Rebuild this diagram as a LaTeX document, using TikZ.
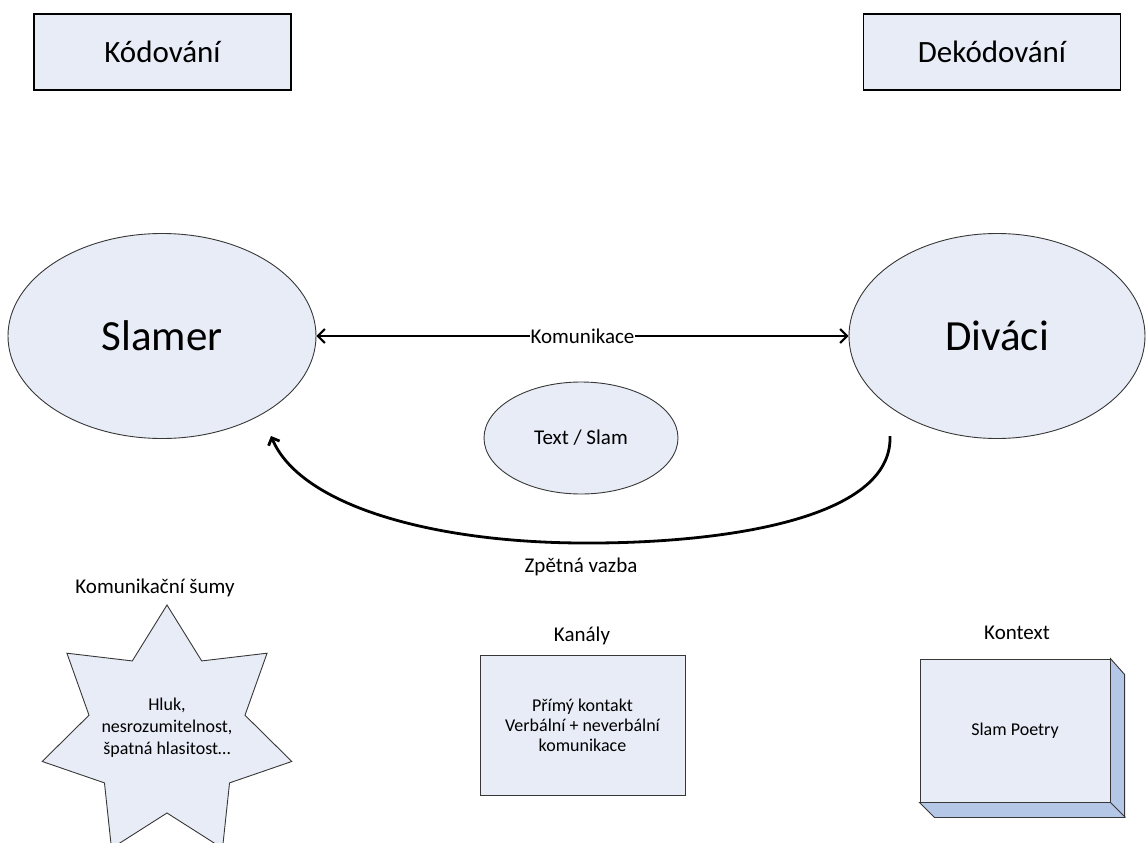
\documentclass[tikz,border=0pt]{standalone}
\usepackage{fontspec}
\setmainfont{Carlito}
\usetikzlibrary{shapes.geometric,arrows.meta}
\definecolor{boxfill}{RGB}{232,236,247}
\definecolor{sidefill}{RGB}{180,199,231}
\definecolor{edgec}{RGB}{55,55,55}
\tikzset{
 topbox/.style={draw=black, line width=1.3pt, fill=boxfill, minimum width=257pt, minimum height=76pt, inner sep=0pt, font=\fontsize{31}{36}\selectfont},
 bigell/.style={ellipse, draw=edgec, line width=0.9pt, fill=boxfill, inner sep=0pt, font=\fontsize{43}{50}\selectfont},
 lbl/.style={font=\fontsize{21}{25}\selectfont, inner sep=1pt},
 smalltxt/.style={font=\fontsize{18}{22}\selectfont, align=center},
 shapeline/.style={draw=edgec, line width=0.9pt, fill=boxfill},
 conn/.style={line width=2pt, {Straight Barb[length=7pt,width=14pt]}-{Straight Barb[length=7pt,width=14pt]}},
 fbarrow/.style={line width=2.8pt, -{Straight Barb[length=6pt,width=12pt]}},
}
\begin{document}
\begin{tikzpicture}[x=1pt,y=-1pt]
\useasboundingbox (0,0) rectangle (1146,843);
% top boxes
\node[topbox] (kod) at (162.5,52) {Kódování};
\node[topbox] (dek) at (992,52) {Dekódování};
% main ellipses
\node[bigell, minimum width=308pt, minimum height=205pt] (slamer) at (162,336) {Slamer};
\node[bigell, minimum width=296pt, minimum height=205pt] (divaci) at (997,336) {Diváci};
\node[ellipse, shapeline, minimum width=194pt, minimum height=112pt, inner sep=0pt, font=\fontsize{21}{25}\selectfont] (textslam) at (581,438) {Text / Slam};
% communication
\draw[conn] (slamer) -- node[lbl, fill=white, pos=0.5] (komlbl) {Komunikace} (divaci);
% feedback
\coordinate (fbstart) at (890,436);
\coordinate (fbend) at (271,436);
\draw[fbarrow] (fbstart) .. controls (893,520) and (720,544) .. (580,543) .. controls (430,542) and (300,505) .. (fbend);
\node[lbl] (zv) at (581,567) {Zpětná vazba};
% noise star
\node[lbl] (sumlbl) at (155,588) {Komunikační šumy};
\draw[shapeline, shift={(167,733)}] (90:128pt)
  \foreach \k [evaluate=\k as \r using {ifthenelse(mod(\k,2)==0,128,80)}] in {1,...,13} { -- ({90+\k*360/14}:\r pt) } -- cycle;
\node[smalltxt] (sum) at (167,728) {Hluk,\\nesrozumitelnost,\\špatná hlasitost…};
% channels
\node[lbl] (kanlbl) at (582,636) {Kanály};
\node[shapeline, minimum width=205pt, minimum height=140pt, font=\fontsize{18}{20}\selectfont, align=center] (kan) at (582.5,725) {Přímý kontakt\\Verbální + neverbální\\komunikace};
% context
\node[lbl] (ktxlbl) at (1017,633) {Kontext};
\node[shapeline, minimum width=190pt, minimum height=143pt, smalltxt] (ktx) at (1015,730.5) {Slam Poetry};
\draw[draw=edgec, line width=0.9pt, fill=sidefill] (ktx.south west) -- ++(15,15) -- ++(190,0) -- ++(0,-143) -- (ktx.north east) -- (ktx.south east) -- cycle;
\draw[draw=edgec, line width=0.9pt] (ktx.south east) -- ++(15,15);
\end{tikzpicture}
\end{document}
